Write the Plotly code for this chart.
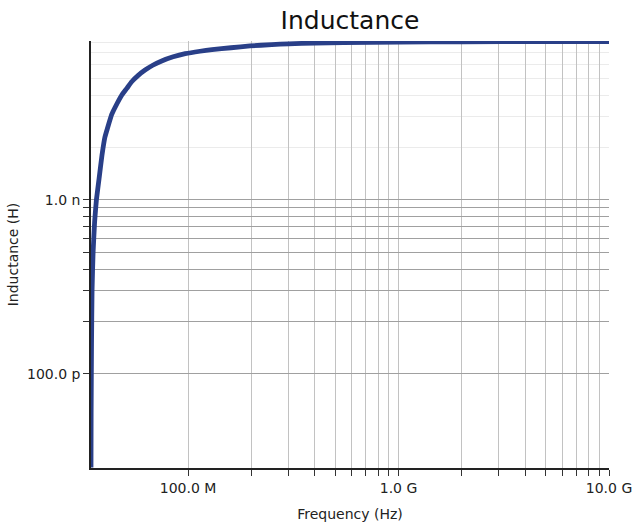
import plotly.graph_objects as go
import math

# Data
freq_hz = [34.6e6, 34.65e6, 34.8e6, 35.0e6, 35.4e6, 36.0e6, 36.7e6, 37.8e6,
           39.0e6, 40.3e6, 41.5e6, 43.4e6, 45.0e6, 48.4e6, 51.2e6, 54.0e6,
           58.0e6, 62.5e6, 68.0e6, 75.0e6, 85.0e6, 97.0e6, 114e6, 130e6,
           160e6, 197e6, 250e6, 300e6, 400e6, 547e6, 1.0e9, 2.0e9, 5.0e9, 10.0e9]
inductance_h = [29e-12, 60e-12, 150e-12, 300e-12, 500e-12, 750e-12, 1.0e-9, 1.33e-9,
                1.8e-9, 2.3e-9, 2.6e-9, 3.1e-9, 3.4e-9, 4.0e-9, 4.38e-9, 4.78e-9,
                5.2e-9, 5.58e-9, 5.95e-9, 6.3e-9, 6.65e-9, 6.93e-9, 7.16e-9, 7.31e-9,
                7.5e-9, 7.68e-9, 7.82e-9, 7.9e-9, 7.97e-9, 8.02e-9, 8.07e-9, 8.12e-9, 8.13e-9, 8.14e-9]

x_tickvals = [1e8, 2e8, 3e8, 4e8, 5e8, 6e8, 7e8, 8e8, 9e8,
              1e9, 2e9, 3e9, 4e9, 5e9, 6e9, 7e9, 8e9, 9e9, 1e10]
x_ticktext = ["100.0 M", "", "", "", "", "", "", "", "",
              "1.0 G", "", "", "", "", "", "", "", "", "10.0 G"]
y_tickvals = [1e-10, 2e-10, 3e-10, 4e-10, 5e-10, 6e-10, 7e-10, 8e-10, 9e-10, 1e-9]
y_ticktext = ["100.0 p", "", "", "", "", "", "", "", "", "1.0 n"]
y_minorvals = [2e-9, 3e-9, 4e-9, 5e-9, 6e-9, 7e-9, 8e-9]

x_range = [math.log10(34.6e6), math.log10(10.0e9)]
y_range = [math.log10(28.8e-12), math.log10(8.2e-9)]

font = "DejaVu Sans"

fig = go.Figure()
fig.add_trace(go.Scatter(
    x=freq_hz, y=inductance_h, mode="lines",
    line=dict(color="#293F88", width=4.8, shape="spline", smoothing=0.4),
    hoverinfo="x+y", showlegend=False,
))

fig.update_layout(
    width=635, height=528,
    margin=dict(l=91, r=26, t=41, b=60, autoexpand=False),
    paper_bgcolor="white", plot_bgcolor="white",
    title=dict(text="Inductance", x=0.5512, xanchor="center", y=0.962, yanchor="middle",
               font=dict(family=font, size=25, color="#111111")),
    font=dict(family=font, size=14, color="#222222"),
    xaxis=dict(
        type="log", range=x_range, automargin=False,
        tickmode="array", tickvals=x_tickvals, ticktext=x_ticktext,
        ticks="outside", ticklen=6, tickcolor="#333333", tickwidth=1,
        showgrid=True, gridcolor="#c2c2c2", gridwidth=1,
        showline=True, linecolor="#222222", linewidth=1.5,
        zeroline=False,
        title=dict(text="Frequency (Hz)", font=dict(family=font, size=14, color="#222222")),
        tickfont=dict(family=font, size=14, color="#222222"),
    ),
    yaxis=dict(
        type="log", range=y_range, automargin=True,
        tickmode="array", tickvals=y_tickvals, ticktext=y_ticktext,
        ticks="outside", ticklen=6, tickcolor="#333333", tickwidth=1,
        showgrid=True, gridcolor="#a0a0a0", gridwidth=1,
        showline=True, linecolor="#222222", linewidth=1.5,
        zeroline=False,
        minor=dict(tickvals=y_minorvals, showgrid=True, gridcolor="#ebebeb", gridwidth=1, ticks=""),
        title=dict(text="Inductance (H)", font=dict(family=font, size=14, color="#222222"), standoff=5),
        tickfont=dict(family=font, size=14, color="#222222"),
    ),
)

fig.write_html(
    "out.html",
    config={"displayModeBar": False},
    post_script="document.body.style.margin='0';document.body.style.overflow='hidden';",
)
